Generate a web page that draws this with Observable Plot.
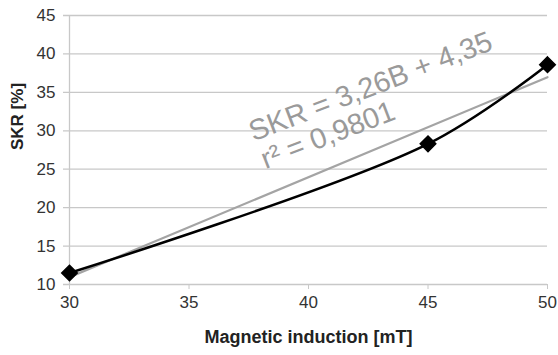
<!DOCTYPE html>
<html>
<head>
<meta charset="utf-8">
<script src="https://cdn.jsdelivr.net/npm/d3@7"></script>
<script src="https://cdn.jsdelivr.net/npm/@observablehq/plot@0.6"></script>
<style>
  html, body { margin: 0; padding: 0; background: #fff; }
</style>
</head>
<body>
<div id="chart"></div>
<script>
const induction = [30, 45, 50];
const skr = [11.5, 28.3, 38.6];
const xTicks = [30, 35, 40, 45, 50];
const yTicks = [10, 15, 20, 25, 30, 35, 40, 45];
const annotationText = ["SKR = 3,26B + 4,35", "r\u00B2 = 0,9801"];
const annotationX = [37.7, 38.2];
const annotationY = [28.6, 25.0];

const data = induction.map((b, i) => ({b, s: skr[i]}));
const notes = annotationText.map((t, i) => ({t, x: annotationX[i], y: annotationY[i]}));

const font = "'Liberation Sans', Arial, sans-serif";

const chart = Plot.plot({
  width: 558,
  height: 355,
  marginLeft: 69,
  marginRight: 11,
  marginTop: 15,
  marginBottom: 71,
  style: {fontFamily: font, fontSize: "17px", color: "#333", background: "#fff"},
  x: {domain: [30, 50], label: null},
  y: {domain: [10, 45], label: null},
  marks: [
    Plot.ruleY(yTicks, {stroke: "#c8c8c8", strokeWidth: 1.3, insetLeft: -6}),
    Plot.ruleX([30], {stroke: "#c8c8c8", strokeWidth: 1.3}),
    Plot.axisY({ticks: yTicks, tickSize: 0, tickPadding: 14, label: null, fill: "#333"}),
    Plot.axisX({ticks: xTicks, tickSize: 5, tickPadding: 6, stroke: "#c8c8c8", label: null, fill: "#333"}),
    Plot.linearRegressionY(data, {x: "b", y: "s", stroke: "#a4a4a4", strokeWidth: 2.2, ci: 0}),
    Plot.line(data, {x: "b", y: "s", curve: "catmull-rom", stroke: "#000", strokeWidth: 2.5}),
    Plot.dot(data, {x: "b", y: "s", symbol: "diamond2", r: 7, fill: "#000", stroke: "#000"}),
    Plot.text(notes, {x: "x", y: "y", text: "t", rotate: -21, textAnchor: "start", lineAnchor: "bottom", fontSize: 29, fill: "#9a9a9a"}),
    Plot.text(["SKR [%]"], {frameAnchor: "left", dx: -52, rotate: -90, fontWeight: "bold", fontSize: 17, fill: "#222"}),
    Plot.text(["Magnetic induction [mT]"], {frameAnchor: "bottom", dy: 58, fontWeight: "bold", fontSize: 18, fill: "#222"})
  ]
});
document.getElementById("chart").appendChild(chart);
</script>
</body>
</html>
